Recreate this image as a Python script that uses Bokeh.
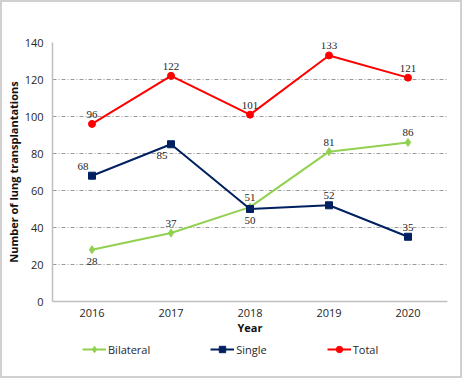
from bokeh.plotting import figure
from bokeh.models import (ColumnDataSource, Legend, LegendItem, Range1d, FactorRange,
                          LabelSet)
from bokeh.layouts import column
from bokeh.embed import file_html
from bokeh.resources import INLINE

years = ["2016", "2017", "2018", "2019", "2020"]
bilateral = [28, 37, 51, 81, 86]
single = [68, 85, 50, 52, 35]
total = [96, 122, 101, 133, 121]
bilateral_pos = ["below", "above", "above", "above", "above"]
single_pos = ["above-left", "below-left", "below", "above", "above"]
total_pos = ["above", "above", "above", "above", "above"]
series_names = ["Bilateral", "Single", "Total"]

FONT = "Open Sans"
GREEN = "#92D050"
NAVY = "#002060"
RED = "#FF0000"
TXT = "#262626"

p = figure(width=458, height=338, x_range=FactorRange(*years), y_range=Range1d(0, 140),
           output_backend="svg", toolbar_location=None,
           min_border_left=50, min_border_right=13, min_border_top=40, min_border_bottom=39)
p.outline_line_color = None
p.background_fill_color = "white"
p.border_fill_color = "white"

p.xgrid.grid_line_color = None
p.ygrid.grid_line_color = "#9a9a9a"
p.ygrid.grid_line_dash = "4 2 1 2"
p.ygrid.grid_line_width = 1

p.yaxis.ticker = [0, 20, 40, 60, 80, 100, 120, 140]
for ax in (p.xaxis[0], p.yaxis[0]):
    ax.axis_line_color = "#bfbfbf"
    ax.axis_line_width = 1.5
    ax.major_tick_line_color = None
    ax.minor_tick_line_color = None
    ax.major_tick_out = 0
    ax.major_tick_in = 0
    ax.minor_tick_out = 0
    ax.major_label_text_font = FONT
    ax.major_label_text_font_size = "11px"
    ax.major_label_text_color = TXT
    ax.axis_label_text_font = FONT
    ax.axis_label_text_font_size = "11px"
    ax.axis_label_text_font_style = "bold"
    ax.axis_label_text_color = "#111111"
p.xaxis.axis_label = "Year"
p.yaxis.axis_label = "Number of lung transplantations"
p.xaxis.major_label_standoff = 7
p.xaxis.axis_label_standoff = 0
p.yaxis.major_label_standoff = 9
p.yaxis.axis_label_standoff = 1


def series(vals, pos, color, marker, size):
    src = ColumnDataSource(dict(x=years, y=vals))
    p.line("x", "y", source=src, color=color, line_width=2)
    p.scatter("x", "y", source=src, marker=marker, size=size, color=color)
    for q in sorted(set(pos)):
        idx = [i for i, v in enumerate(pos) if v == q]
        up = q.startswith("above")
        s2 = ColumnDataSource(dict(x=[years[i] for i in idx], y=[vals[i] for i in idx],
                                   t=[str(vals[i]) for i in idx]))
        lab = LabelSet(x="x", y="y", text="t", source=s2,
                       y_offset=6 if up else -8,
                       x_offset=-9 if q.endswith("left") else 0,
                       text_align="center",
                       text_baseline="bottom" if up else "top",
                       text_font=FONT, text_font_size="11px", text_color=TXT)
        p.add_layout(lab)


styles = [(GREEN, "diamond", 8), (NAVY, "square", 7), (RED, "circle", 7)]
series(bilateral, bilateral_pos, *styles[0])
series(single, single_pos, *styles[1])
series(total, total_pos, *styles[2])

# legend strip below the chart
lg = figure(width=458, height=36, x_range=Range1d(0, 1), y_range=Range1d(0, 1),
            output_backend="svg", toolbar_location=None,
            x_axis_location=None, y_axis_location=None,
            min_border=0, min_border_left=0, min_border_right=0,
            min_border_top=0, min_border_bottom=0)
lg.grid.visible = False
lg.outline_line_color = None
lg.border_fill_color = "white"
items = []
nan = float("nan")
hidden = ColumnDataSource(dict(x=[nan], y=[nan]))
for name, (color, marker, size) in zip(series_names, styles):
    l1 = lg.line("x", "y", source=hidden, color=color, line_width=2)
    m1 = lg.scatter("x", "y", source=hidden, marker=marker, size=size, color=color)
    items.append(LegendItem(label=name, renderers=[l1, m1]))
legend = Legend(items=items, orientation="horizontal", location=(30, 19),
                label_text_font=FONT, label_text_font_size="11px", label_text_color=TXT,
                glyph_width=24, glyph_height=16, label_standoff=2, spacing=60,
                label_height=16,
                border_line_color=None, background_fill_alpha=0,
                padding=0, margin=0)
lg.add_layout(legend, "center")

layout = column(p, lg, spacing=0)
layout.styles = {"border": "2px solid #d0d0d0"}

open("out.html", "w").write(file_html(layout, INLINE))
